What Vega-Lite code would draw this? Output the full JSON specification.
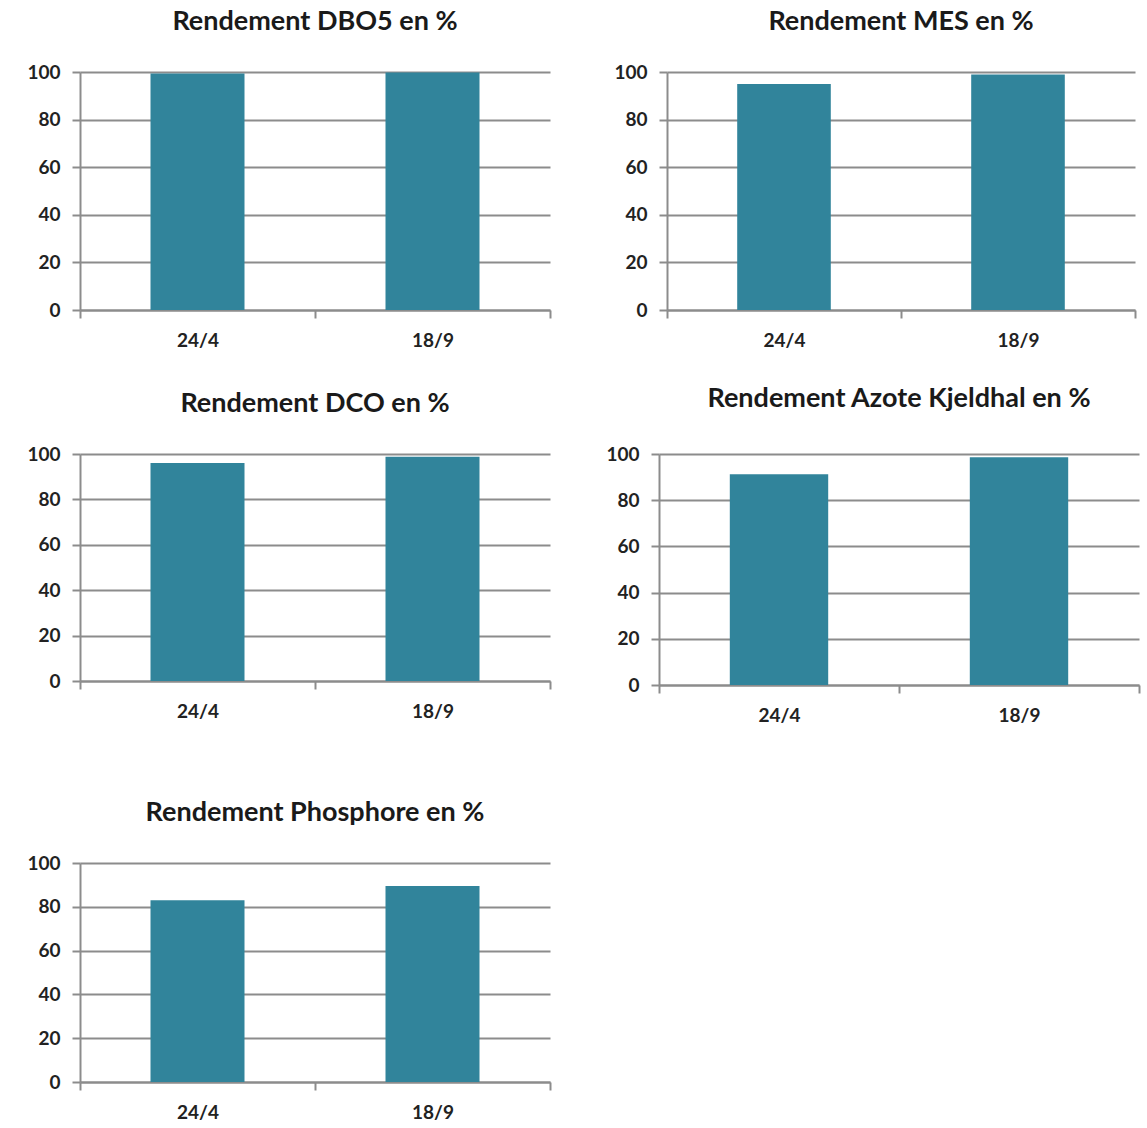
{
  "$schema": "https://vega.github.io/schema/vega-lite/v6.json",
  "background": "white",
  "padding": {"top": 8, "left": 5, "right": 5, "bottom": 5},
  "data": {
    "values": [
      {"param": "DBO5", "date": "24/4", "value": 99.4},
      {"param": "DBO5", "date": "18/9", "value": 99.8},
      {"param": "MES", "date": "24/4", "value": 95.0},
      {"param": "MES", "date": "18/9", "value": 99.0},
      {"param": "DCO", "date": "24/4", "value": 96.0},
      {"param": "DCO", "date": "18/9", "value": 98.8},
      {"param": "NK", "date": "24/4", "value": 91.2},
      {"param": "NK", "date": "18/9", "value": 98.6},
      {"param": "P", "date": "24/4", "value": 83.0},
      {"param": "P", "date": "18/9", "value": 89.5}
    ]
  },
  "vconcat": [
    {
      "vconcat": [
        {
          "hconcat": [
            {
              "title": "Rendement DBO5 en %",
              "width": 470, "height": 238,
              "transform": [{"filter": "datum.param === 'DBO5'"}],
              "mark": {"type": "bar", "color": "#31849B", "width": {"band": 0.4}},
              "encoding": {
                "x": {"field": "date", "type": "nominal", "sort": ["24/4", "18/9"], "scale": {"paddingInner": 0, "paddingOuter": 0}},
                "y": {"field": "value", "type": "quantitative", "scale": {"domain": [0, 100]}, "axis": {"minExtent": 75}}
              }
            },
            {
              "title": "Rendement MES en %",
              "width": 468, "height": 238,
              "transform": [{"filter": "datum.param === 'MES'"}],
              "mark": {"type": "bar", "color": "#31849B", "width": {"band": 0.4}},
              "encoding": {
                "x": {"field": "date", "type": "nominal", "sort": ["24/4", "18/9"], "scale": {"paddingInner": 0, "paddingOuter": 0}},
                "y": {"field": "value", "type": "quantitative", "scale": {"domain": [0, 100]}}
              }
            }
          ],
          "spacing": 62
        },
        {
          "hconcat": [
            {
              "title": "Rendement DCO en %",
              "width": 470, "height": 227,
              "transform": [{"filter": "datum.param === 'DCO'"}],
              "mark": {"type": "bar", "color": "#31849B", "width": {"band": 0.4}},
              "encoding": {
                "x": {"field": "date", "type": "nominal", "sort": ["24/4", "18/9"], "scale": {"paddingInner": 0, "paddingOuter": 0}},
                "y": {"field": "value", "type": "quantitative", "scale": {"domain": [0, 100]}, "axis": {"minExtent": 75}}
              }
            },
            {
              "title": {"text": "Rendement Azote Kjeldhal en %", "offset": 32},
              "width": 480, "height": 231,
              "transform": [{"filter": "datum.param === 'NK'"}],
              "mark": {"type": "bar", "color": "#31849B", "width": {"band": 0.41}},
              "encoding": {
                "x": {"field": "date", "type": "nominal", "sort": ["24/4", "18/9"], "scale": {"paddingInner": 0, "paddingOuter": 0}},
                "y": {"field": "value", "type": "quantitative", "scale": {"domain": [0, 100]}}
              }
            }
          ],
          "spacing": 54
        }
      ],
      "spacing": 35
    },
    {
      "title": "Rendement Phosphore en %",
      "width": 470, "height": 219,
      "transform": [{"filter": "datum.param === 'P'"}],
      "mark": {"type": "bar", "color": "#31849B", "width": {"band": 0.4}},
      "encoding": {
        "x": {"field": "date", "type": "nominal", "sort": ["24/4", "18/9"], "scale": {"paddingInner": 0, "paddingOuter": 0}},
        "y": {"field": "value", "type": "quantitative", "scale": {"domain": [0, 100]}, "axis": {"minExtent": 75}}
      }
    }
  ],
  "spacing": 74,
  "config": {
    "view": {"stroke": null},
    "font": "Lato",
    "title": {"fontSize": 27, "fontWeight": "bold", "color": "#1a1a1a", "offset": 27, "font": "Lato"},
    "axis": {
      "title": null,
      "labelFont": "Lato",
      "labelFontSize": 19,
      "labelFontWeight": "bold",
      "labelColor": "#222222",
      "domainColor": "#8c8c8c",
      "domainWidth": 2,
      "tickColor": "#8c8c8c",
      "tickWidth": 2,
      "gridColor": "#8c8c8c",
      "gridWidth": 2,
      "gridOpacity": 1
    },
    "axisX": {"grid": false, "tickBand": "extent", "labelAngle": 0, "tickSize": 8, "labelPadding": 13},
    "axisY": {"grid": true, "values": [0, 20, 40, 60, 80, 100], "tickSize": 8, "labelPadding": 12}
  }
}
